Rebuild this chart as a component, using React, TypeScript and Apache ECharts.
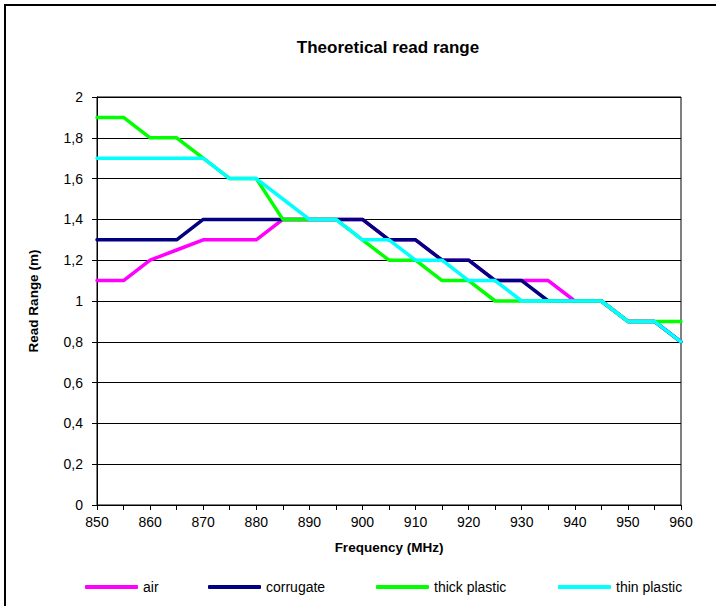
import React, { useEffect, useRef } from "react";
import * as echarts from "echarts";

const frequencies = [850, 855, 860, 865, 870, 875, 880, 885, 890, 895, 900, 905, 910, 915, 920, 925, 930, 935, 940, 945, 950, 955, 960];
const air = [1.1, 1.1, 1.2, 1.25, 1.3, 1.3, 1.3, 1.4, 1.4, 1.4, 1.4, 1.3, 1.3, 1.2, 1.2, 1.1, 1.1, 1.1, 1.0, 1.0, 0.9, 0.9, 0.8];
const corrugate = [1.3, 1.3, 1.3, 1.3, 1.4, 1.4, 1.4, 1.4, 1.4, 1.4, 1.4, 1.3, 1.3, 1.2, 1.2, 1.1, 1.1, 1.0, 1.0, 1.0, 0.9, 0.9, 0.8];
const thickPlastic = [1.9, 1.9, 1.8, 1.8, 1.7, 1.6, 1.6, 1.4, 1.4, 1.4, 1.3, 1.2, 1.2, 1.1, 1.1, 1.0, 1.0, 1.0, 1.0, 1.0, 0.9, 0.9, 0.9];
const thinPlastic = [1.7, 1.7, 1.7, 1.7, 1.7, 1.6, 1.6, 1.5, 1.4, 1.4, 1.3, 1.3, 1.2, 1.2, 1.1, 1.1, 1.0, 1.0, 1.0, 1.0, 0.9, 0.9, 0.8];

const seriesNames = ["air", "corrugate", "thick plastic", "thin plastic"];
const seriesValues = [air, corrugate, thickPlastic, thinPlastic];
const seriesColors = ["#FF00FF", "#000080", "#00FF00", "#00FFFF"];
const legendLefts = [80, 203, 371, 553];

const FONT = "'Liberation Sans', Arial, sans-serif";

export default function App() {
  const ref = useRef<HTMLDivElement>(null);
  useEffect(() => {
    if (!ref.current) return;
    const chart = echarts.init(ref.current, null, { renderer: "svg" });
    chart.setOption({
      animation: false,
      backgroundColor: "#ffffff",
      graphic: [
        { type: "line", shape: { x1: 5, y1: 4, x2: 5, y2: 606 }, style: { stroke: "#000", lineWidth: 2 } },
        { type: "line", shape: { x1: 4, y1: 5, x2: 716, y2: 5 }, style: { stroke: "#000", lineWidth: 2 } },
        {
          type: "text",
          x: 388,
          y: 47,
          style: {
            text: "Theoretical read range",
            fontFamily: FONT,
            fontSize: 17,
            fontWeight: "bold",
            fill: "#000",
            align: "center",
            verticalAlign: "middle",
          },
        },
      ],
      legend: seriesNames.map((name, i) => ({
        left: legendLefts[i],
        top: 575,
        padding: 5,
        itemWidth: 53,
        itemHeight: 4,
        icon: "roundRect",
        textStyle: { fontFamily: FONT, fontSize: 14, color: "#000" },
        data: [name],
      })),
      grid: {
        left: 97,
        right: 35,
        top: 97,
        bottom: 101,
        show: true,
        borderColor: "#000",
        borderWidth: 1,
        backgroundColor: "transparent",
      },
      xAxis: {
        type: "value",
        min: 850,
        max: 960,
        interval: 5,
        name: "Frequency (MHz)",
        nameLocation: "middle",
        nameGap: 35,
        nameTextStyle: { fontFamily: FONT, fontSize: 13.5, fontWeight: "bold", color: "#000" },
        axisLine: { show: true, lineStyle: { color: "#000", width: 1 } },
        axisTick: { show: true, length: 5, inside: false, lineStyle: { color: "#000" } },
        axisLabel: {
          margin: 10,
          fontFamily: FONT,
          fontSize: 14,
          color: "#000",
          formatter: (v: number) => (v % 10 === 0 ? String(v) : ""),
        },
        splitLine: { show: false },
      },
      yAxis: {
        type: "value",
        min: 0,
        max: 2,
        interval: 0.2,
        name: "Read Range (m)",
        nameLocation: "middle",
        nameGap: 57,
        nameTextStyle: { fontFamily: FONT, fontSize: 13.5, fontWeight: "bold", color: "#000" },
        axisLine: { show: true, lineStyle: { color: "#000", width: 1 } },
        axisTick: { show: true, length: 5, inside: false, lineStyle: { color: "#000" } },
        axisLabel: {
          margin: 14,
          fontFamily: FONT,
          fontSize: 14,
          color: "#000",
          formatter: (v: number) => String(Math.round(v * 10) / 10).replace(".", ","),
        },
        splitLine: { show: true, lineStyle: { color: "#000", width: 1 } },
      },
      series: seriesNames.map((name, i) => ({
        name,
        type: "line",
        data: frequencies.map((f, j) => [f, seriesValues[i][j]]),
        symbol: "none",
        color: seriesColors[i],
        lineStyle: { color: seriesColors[i], width: 3.5, join: "round", cap: "round" },
      })),
    });
    return () => chart.dispose();
  }, []);
  return (
    <div
      ref={ref}
      style={{ position: "absolute", left: 0, top: 0, width: 716, height: 606 }}
    />
  );
}
